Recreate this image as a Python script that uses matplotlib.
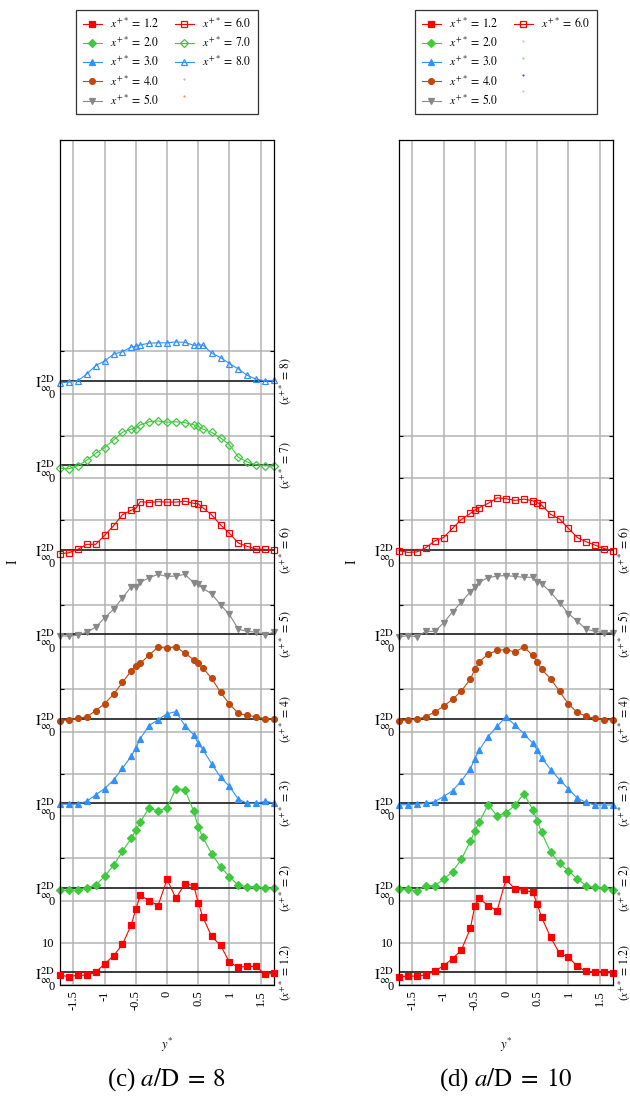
import matplotlib
matplotlib.use("Agg")
import matplotlib.pyplot as plt
from matplotlib.lines import Line2D

plt.rcParams['font.family'] = ['Liberation Serif', 'DejaVu Serif']
plt.rcParams['mathtext.fontset'] = 'stix'

# ---------------- data ----------------
y_star = [-1.714, -1.571, -1.429, -1.286, -1.143, -1.0, -0.857, -0.714, -0.571, -0.5,
          -0.429, -0.286, -0.143, 0.0, 0.143, 0.286, 0.429, 0.5, 0.571, 0.714,
          0.857, 1.0, 1.143, 1.286, 1.429, 1.571, 1.714]

# a/D = 8
I8_x12 = [2.3, 2.0, 2.3, 2.3, 3.0, 5.0, 6.9, 9.6, 14.3, 17.9, 21.2, 20.0, 18.8, 25.0, 20.5,
          24.0, 23.5, 19.5, 16.2, 11.5, 9.4, 5.4, 4.2, 4.4, 4.4, 2.5, 2.8]
I8_x2 = [2.4, 2.4, 2.4, 3.0, 3.6, 5.7, 8.3, 11.6, 14.8, 16.6, 18.5, 22.0, 21.1, 22.0, 26.5,
         26.2, 21.1, 17.4, 15.0, 11.1, 8.0, 5.6, 3.6, 3.3, 3.3, 2.9, 2.9]
I8_x3 = [2.8, 2.8, 2.8, 3.5, 5.0, 6.5, 8.5, 11.3, 14.2, 16.1, 18.3, 21.4, 22.8, 24.2, 24.7,
         21.4, 19.2, 17.2, 15.8, 12.4, 9.2, 7.0, 4.0, 3.0, 3.0, 3.5, 3.1]
I8_x4 = [2.5, 2.8, 3.1, 3.5, 4.9, 6.6, 8.8, 11.6, 14.4, 15.6, 16.1, 18.1, 20.0, 19.7, 20.1,
         18.5, 17.0, 16.1, 15.1, 12.6, 9.3, 6.5, 4.3, 3.8, 3.5, 3.0, 3.0]
I8_x5 = [2.6, 2.6, 2.8, 3.5, 4.7, 6.9, 8.9, 11.6, 14.3, 14.3, 15.3, 16.4, 17.2, 16.7, 16.8,
         17.2, 15.2, 14.9, 13.9, 12.6, 10.0, 7.7, 4.2, 3.7, 3.5, 2.9, 3.5]
I8_x6 = [2.1, 2.3, 3.1, 4.3, 4.3, 6.4, 8.7, 11.3, 12.4, 12.8, 14.4, 14.2, 14.4, 14.3, 14.3,
         14.5, 14.0, 13.9, 13.0, 11.3, 8.9, 6.9, 4.6, 3.8, 3.2, 3.1, 3.0]
I8_x7 = [2.3, 2.2, 2.9, 4.2, 5.8, 7.2, 9.0, 10.8, 11.6, 11.7, 12.6, 13.3, 13.5, 13.2, 13.3,
         13.1, 12.6, 12.2, 11.6, 10.8, 9.5, 7.9, 4.9, 3.8, 3.1, 2.9, 2.8]
I8_x8 = [2.5, 2.7, 3.0, 4.6, 6.6, 7.7, 9.3, 9.9, 11.0, 11.2, 11.5, 11.9, 12.0, 12.0, 12.2,
         12.1, 11.4, 11.5, 11.5, 9.6, 8.5, 7.1, 5.8, 4.3, 3.4, 3.0, 3.1]

# a/D = 10
I10_x12 = [1.9, 2.1, 2.1, 2.4, 3.2, 4.6, 6.2, 8.3, 13.4, 18.7, 20.5, 18.8, 17.6, 25.0, 22.7,
           22.4, 22.0, 19.1, 16.0, 11.3, 7.5, 6.6, 4.4, 3.2, 3.0, 3.0, 2.8]
I10_x2 = [2.7, 2.7, 2.2, 3.5, 3.5, 5.0, 6.8, 9.8, 14.0, 16.5, 18.5, 22.7, 20.0, 20.8, 22.5,
          25.3, 21.5, 18.9, 16.1, 11.4, 8.8, 7.0, 5.1, 3.5, 3.1, 2.9, 2.6]
I10_x3 = [2.6, 2.7, 2.8, 3.0, 3.4, 4.6, 6.0, 8.3, 11.2, 13.6, 15.6, 18.8, 21.2, 23.5, 21.5,
          19.5, 17.2, 15.6, 13.8, 11.0, 8.6, 6.4, 4.2, 3.2, 2.6, 2.6, 2.6]
I10_x4 = [2.6, 2.7, 2.9, 3.5, 4.6, 6.0, 7.6, 9.6, 12.4, 14.7, 16.5, 18.3, 19.2, 19.4, 18.8,
          20.0, 18.0, 16.4, 14.7, 12.5, 9.5, 6.5, 4.5, 3.6, 3.1, 2.8, 2.7]
I10_x5 = [2.4, 2.7, 2.4, 3.7, 3.7, 5.7, 8.3, 10.6, 13.1, 14.2, 15.4, 16.4, 16.8, 16.9, 16.7,
          16.5, 16.5, 15.5, 15.0, 13.0, 10.5, 7.9, 6.1, 4.2, 3.7, 3.4, 3.4]
I10_x6 = [2.8, 2.4, 2.5, 3.5, 5.1, 5.9, 8.1, 10.2, 11.6, 12.4, 13.0, 14.0, 15.3, 15.1, 14.7,
          15.0, 14.6, 14.2, 13.6, 11.4, 10.3, 8.1, 5.9, 4.9, 4.1, 3.3, 2.8]

x_stations = ['1.2', '2.0', '3.0', '4.0', '5.0', '6.0', '7.0', '8.0']
station_tags = ['1.2', '2', '3', '4', '5', '6', '7', '8']
I_inf_2D = 3.0
profile_step = 20.0

panel8 = [I8_x12, I8_x2, I8_x3, I8_x4, I8_x5, I8_x6, I8_x7, I8_x8]
panel10 = [I10_x12, I10_x2, I10_x3, I10_x4, I10_x5, I10_x6]

styles = [
    dict(color='#ff0000', marker='s', mfc='#ff0000', ms=4.6),
    dict(color='#3ec93e', marker='D', mfc='#3ec93e', ms=3.6),
    dict(color='#3391ff', marker='^', mfc='#3391ff', ms=4.6),
    dict(color='#c0480c', marker='o', mfc='#c0480c', ms=4.2),
    dict(color='#888888', marker='v', mfc='#888888', ms=4.6),
    dict(color='#ff0000', marker='s', mfc='none', ms=4.6),
    dict(color='#3ec93e', marker='D', mfc='none', ms=3.8),
    dict(color='#3391ff', marker='^', mfc='none', ms=4.8),
]

W, H = 630, 1101
fig = plt.figure(figsize=(W / 100, H / 100), dpi=100)


def make_panel(x0, profiles, n_grid, caption, empty_colors):
    ax = fig.add_axes([x0 / W, 1 - 985 / H, 214 / W, 845 / H])
    ax.set_xlim(-1.714, 1.714)
    ax.set_ylim(0, 200)
    # vertical grid
    for xv in [-1.5, -1.0, -0.5, 0.0, 0.5, 1.0, 1.5]:
        ax.axvline(xv, color='#b4b4b4', lw=1.1, zorder=0)
    # horizontal grid
    for k in range(n_grid + 1):
        ax.axhline(10 * k, color='#b4b4b4', lw=1.1, zorder=0)
    handles = []
    for i, vals in enumerate(profiles):
        base = profile_step * i
        ax.axhline(base + I_inf_2D, color='#1a1a1a', lw=1.2, zorder=1)
        st = styles[i]
        h, = ax.plot(y_star, [base + v for v in vals], color=st['color'], marker=st['marker'],
                     mfc=st['mfc'], mec=st['color'], ms=st['ms'], mew=0.9, lw=0.8,
                     clip_on=False, zorder=3 + (len(profiles) - i),
                     label=r'$x^{+*}\, =\, %s$' % x_stations[i])
        handles.append(h)
        ax.text(1.0 + 11 / 214, (base + I_inf_2D) / 200,
                r'$(x^{+*}\, =\, %s)$' % station_tags[i], transform=ax.transAxes,
                rotation=90, ha='center', va='center', fontsize=8.5)
    # y ticks
    yt, yl = [], []
    for i in range(len(profiles)):
        base = profile_step * i
        yt += [base, base + I_inf_2D]
        yl += ['0', r'$\mathrm{I}^{\mathrm{2D}}_{\infty}$']
    yt.append(10)
    yl.append('10')
    ax.set_yticks(yt)
    ax.set_yticklabels(yl, fontsize=9)
    for lab in ax.get_yticklabels():
        if lab.get_text().startswith('$'):
            lab.set_fontsize(11)
    minor = [10 * k for k in range(n_grid + 1)]
    ax.set_yticks(minor, minor=True)
    ax.tick_params(axis='y', which='major', length=0, pad=4)
    ax.tick_params(axis='y', which='minor', direction='in', length=3, width=0.8,
                   left=True, right=True, labelleft=False)
    ax.set_xticks([-1.5, -1.0, -0.5, 0.0, 0.5, 1.0, 1.5])
    ax.set_xticklabels(['-1.5', '-1', '-0.5', '0', '0.5', '1', '1.5'], rotation=90,
                       fontsize=9)
    ax.tick_params(axis='x', length=0, pad=4)
    for s in ax.spines.values():
        s.set_linewidth(0.9)
        s.set_zorder(10)
    fig.text((x0 - 47) / W, 1 - 562 / H, 'I', rotation=90, ha='center', va='center',
             fontsize=10)
    fig.text((x0 + 107) / W, 1 - 1045 / H, r'$y^{*}$', ha='center', va='center', fontsize=9)
    # legend
    extra = [Line2D([], [], ls='none', marker='.', ms=1.0, color=c, label=' ')
             for c in empty_colors]
    leg = ax.legend(handles=handles + extra, ncol=2, loc='upper center',
                    bbox_to_anchor=((x0 + 107) / W, 1 - 10 / H), bbox_transform=fig.transFigure,
                    fontsize=8.5, frameon=True, fancybox=False, edgecolor='black',
                    handlelength=1.6, handletextpad=0.7, columnspacing=1.3,
                    labelspacing=0.42, borderpad=0.55, borderaxespad=0.0)
    leg.get_frame().set_linewidth(0.9)
    fig.text((x0 + 107) / W, 1 - 1080 / H, caption, ha='center', va='center', fontsize=18)
    return ax


make_panel(60, panel8, 15, r'(c) $a/\mathrm{D}\; =\; 8$', ['#aaaaaa', '#ff7a1a'])
make_panel(399, panel10, 13, r'(d) $a/\mathrm{D}\; =\; 10$',
           ['#ff99cc', '#66dd66', '#2233cc', '#ee99ee'])

fig.savefig('out.png', dpi=100)
